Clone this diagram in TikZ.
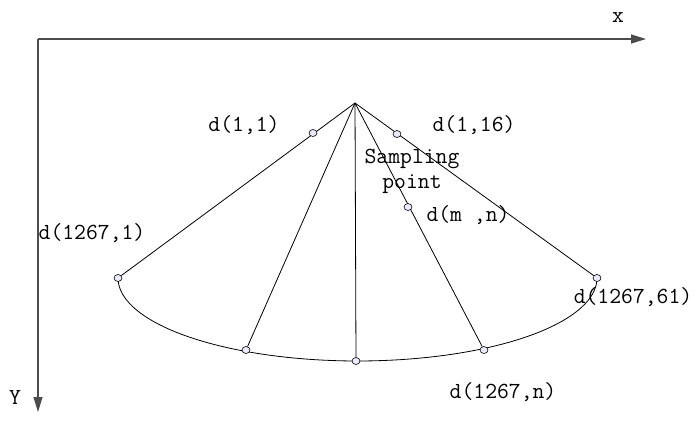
\documentclass[tikz,border=0pt]{standalone}
\usetikzlibrary{arrows.meta,shapes.geometric}
\begin{document}
\begin{tikzpicture}[x=1pt,y=-1pt,
  axis/.style={draw=black!70,line width=1.2pt,-{Triangle[length=15pt,width=9pt]}},
  fan/.style={draw=black,line width=0.8pt},
  pt/.style={draw=black,line width=0.6pt,fill=blue!8!white,ellipse,inner sep=0pt,minimum width=8pt,minimum height=7pt},
  lbl/.style={inner sep=0pt,font=\ttfamily\fontsize{23}{25}\selectfont}]
\useasboundingbox (0,0) rectangle (695,423);
\coordinate (o) at (38,39);
\coordinate (xend) at (646,39);
\coordinate (yend) at (38,412);
\draw[axis] (o) -- (xend);
\draw[axis] (o) -- (yend);
\node[lbl] (xl) at (618,18) {x};
\node[lbl] (yl) at (15,397) {Y};
% arc
\draw[fan] plot[domain=180:360,samples=80] ({357.5+239.5*cos(\x)},{278-83*sin(\x)});
\coordinate (apex) at (355,103);
\node[pt] (p1) at (118,278) {};
\node[pt] (p2) at (246,350) {};
\node[pt] (p3) at (356,361) {};
\node[pt] (p4) at (484,350) {};
\node[pt] (p5) at (597,278) {};
\draw[fan] (apex) -- (p1);
\draw[fan] (apex) -- (p2);
\draw[fan] (apex) -- (p3);
\draw[fan] (apex) -- (p4);
\draw[fan] (apex) -- (p5);
\node[pt] (q1) at (313,133) {};
\node[pt] (q2) at (397,134) {};
\node[pt] (q3) at (408,207) {};
\node[lbl] (l1) at (244,125) {d(1,1)};
\node[lbl] (l2) at (474,125) {d(1,16)};
\node[lbl] (ls) at (412,159) {Sampling};
\node[lbl] (lp) at (412,184) {point};
\node[lbl] (l3) at (468,215) {d(m ,n)};
\node[lbl] (l4) at (92,233) {d(1267,1)};
\node[lbl] (l5) at (633,297) {d(1267,61)};
\node[lbl] (l6) at (503,392) {d(1267,n)};
\end{tikzpicture}
\end{document}
